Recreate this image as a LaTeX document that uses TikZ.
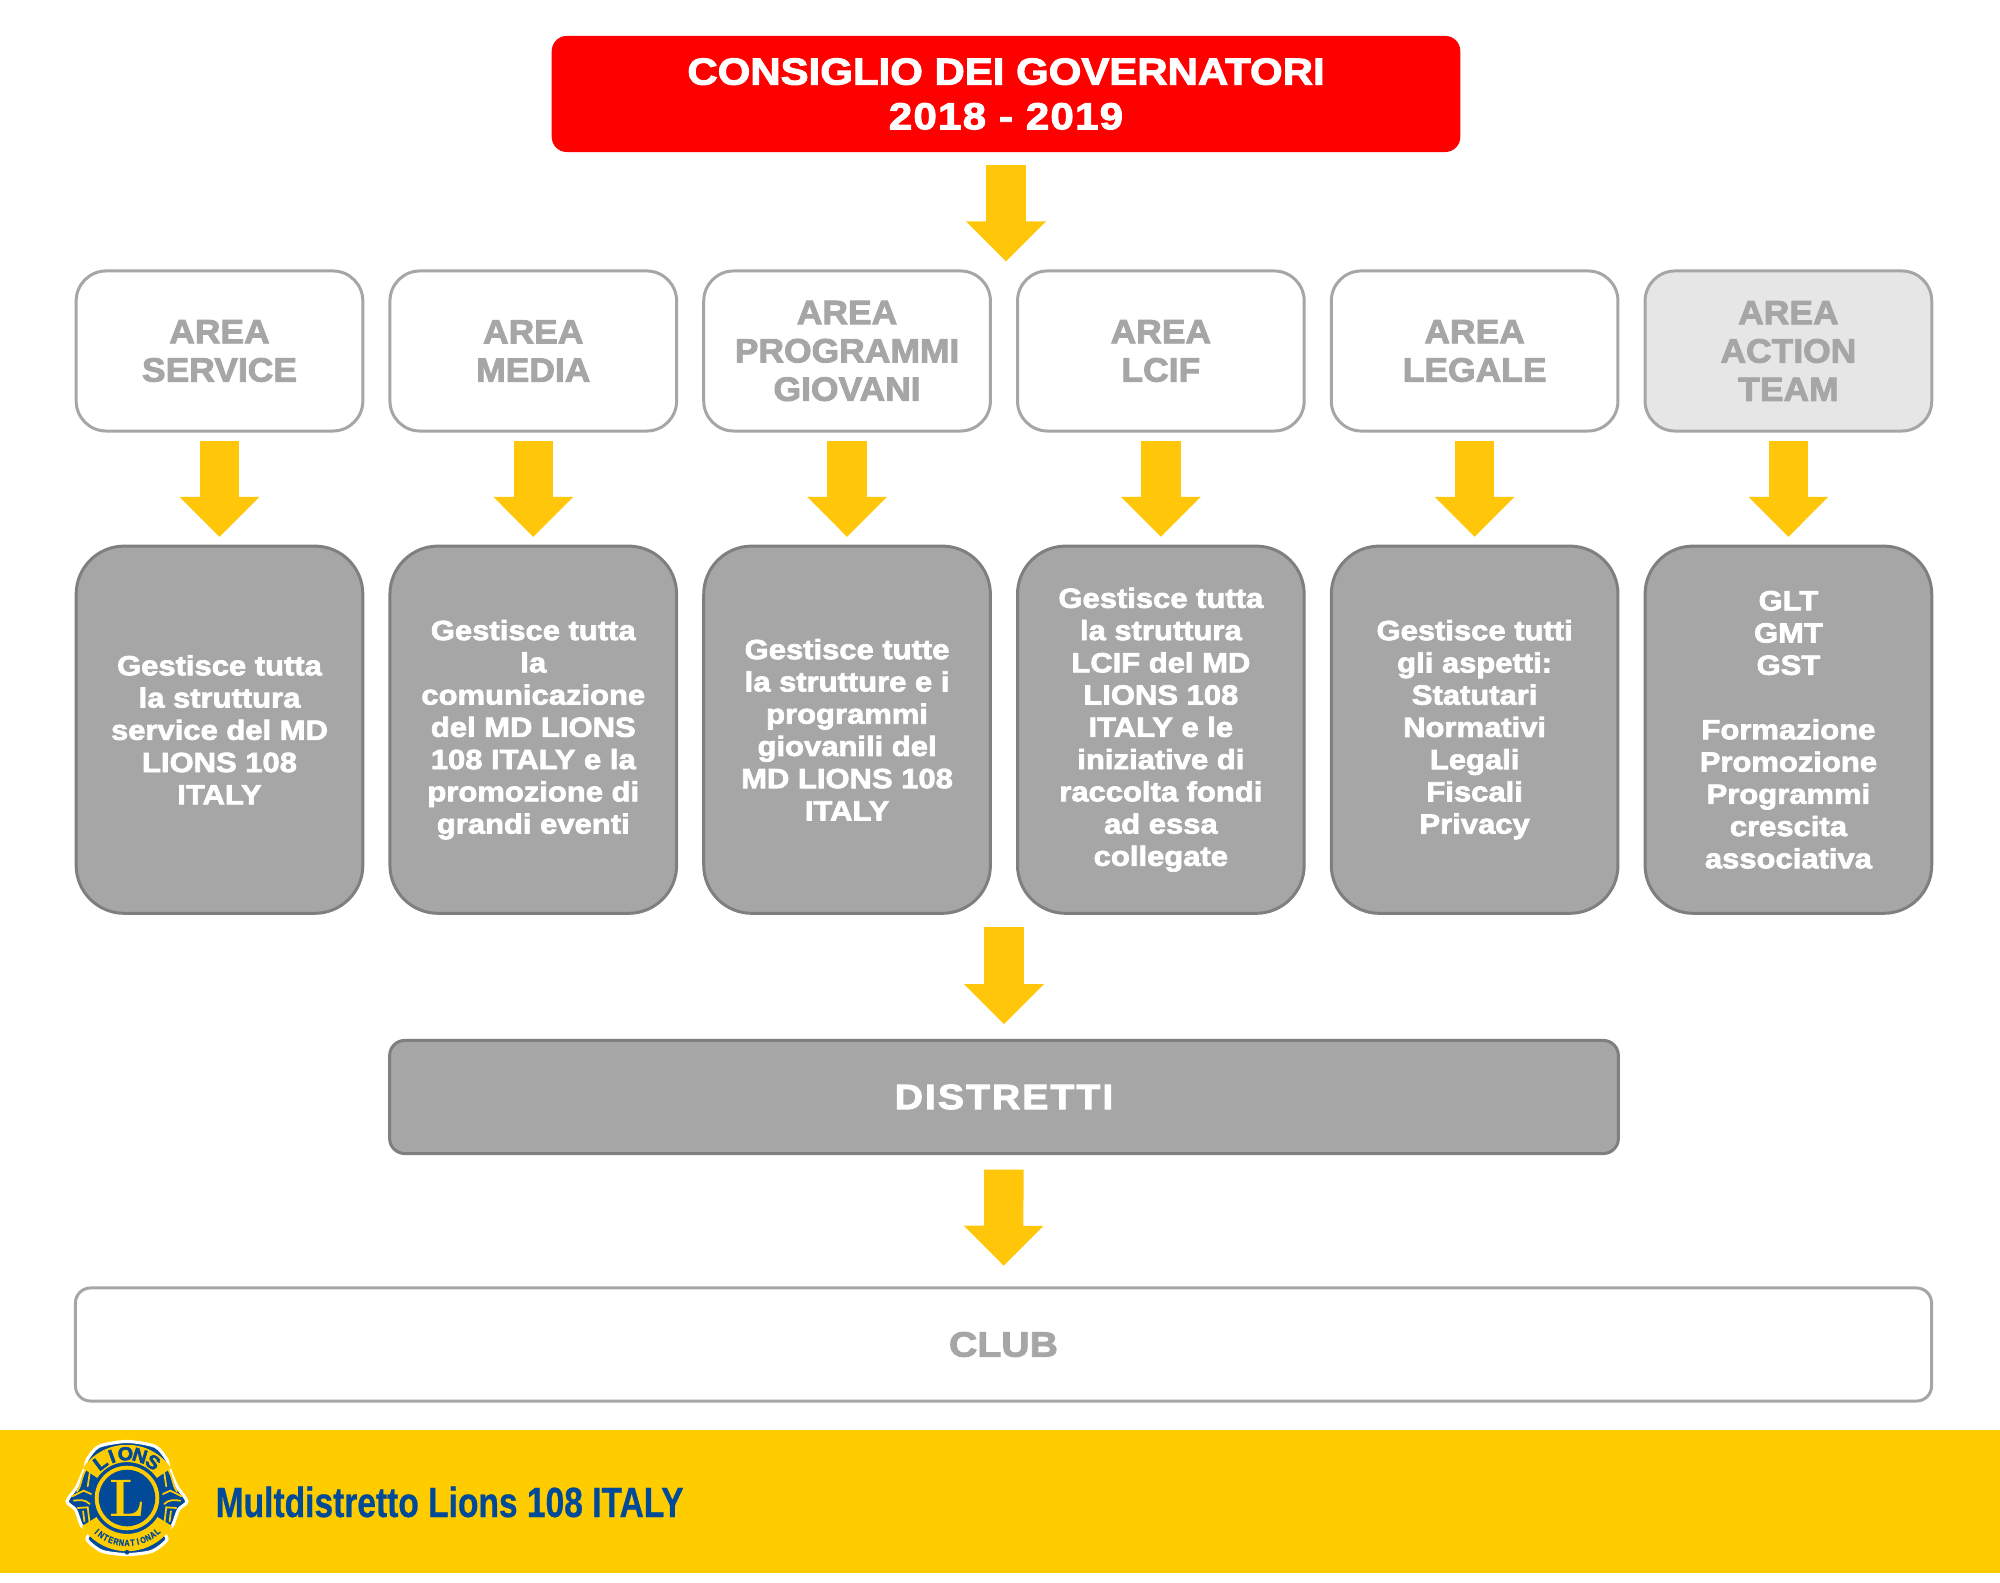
\documentclass[tikz,border=0pt]{standalone}
\usepackage{fontspec}
\usepackage{xcolor}
\usepackage{tikz}
\usetikzlibrary{positioning}
\usetikzlibrary{arrows.meta}
\newfontfamily\heavyfont[BoldFeatures={FakeBold=2.6,FakeStretch=1.115}]{Liberation Sans}
\newfontfamily\areafont[BoldFeatures={FakeBold=2.6,FakeStretch=1.05}]{Liberation Sans}
\newfontfamily\narrowfont[BoldFeatures={FakeBold=.6,FakeStretch=.795}]{Liberation Sans}
\definecolor{lionsgold}{HTML}{FFCC00}
\definecolor{arrowgold}{HTML}{FFC60A}
\definecolor{lionsblue}{HTML}{004A98}
\definecolor{softgrey}{HTML}{A6A6A6}
\definecolor{edgegrey}{HTML}{7F7F7F}
\definecolor{palegrey}{HTML}{E7E6E6}
\tikzset{
	title node/.style={rectangle,fill=red,rounded corners=1.5mm,outer sep=0pt,minimum width=90.8mm,minimum height=11.6mm,
		text=white,align=center,font=\heavyfont\bfseries\fontsize{10.7}{12.7}\selectfont},
	area node/.style={rectangle,draw=softgrey,line width=.3mm,fill=white,rounded corners=3mm,outer sep=0pt,
		minimum width=28.65mm,minimum height=16mm,text=softgrey,align=center,
		font=\areafont\bfseries\fontsize{9.6}{10.9}\selectfont},
	desc node/.style={rectangle,draw=edgegrey,line width=.3mm,fill=softgrey,rounded corners=4.8mm,outer sep=0pt,
		minimum width=28.65mm,minimum height=36.7mm,text=white,align=center,
		font=\heavyfont\bfseries\fontsize{7.9}{9.17}\selectfont},
	wide node/.style={rectangle,line width=.3mm,rounded corners=1.5mm,outer sep=0pt,minimum height=11.3mm,
		align=center,font=\heavyfont\bfseries\fontsize{10}{12}\selectfont},
	block arrow/.style={draw=arrowgold,line width=11.2pt,
		-{Triangle[width=22pt,length=11.4pt,sep=0pt]},shorten <=2.8pt,shorten >=2.6pt},
	lions letter/.style={inner sep=0pt,text=lionsblue,font=\areafont\bfseries\fontsize{5.4}{6}\selectfont},
	intl letter/.style={inner sep=0pt,text=lionsblue,font=\narrowfont\bfseries\fontsize{2.6}{3}\selectfont}
}
\newcommand{\lionface}{
	\draw[lionsgold,line width=.5pt,line cap=round] (-122,88) .. controls (-140,60) and (-135,40) .. (-150,20);
	\draw[lionsgold,line width=.5pt,line cap=round] (-165,5) -- (-130,22) -- (-108,12);
	\draw[lionsgold,line width=.5pt,line cap=round] (-160,-8) .. controls (-140,-5) and (-125,-5) .. (-112,-18);
	\draw[lionsgold,line width=.5pt,line cap=round] (-148,-30) -- (-118,-28) -- (-112,-78);
	\draw[lionsgold,line width=.5pt,line cap=round] (-132,-40) -- (-128,-70);
	\draw[lionsgold,line width=.5pt,line cap=round] (-112,75) -- (-118,35);
}
\begin{document}
\begin{tikzpicture}[x=.01cm,y=-.01cm,node distance=2.71mm]
	\useasboundingbox (0,0) rectangle (2000,1583);
	% top box
	\node [title node] (title) at (1006,94) {CONSIGLIO DEI GOVERNATORI\\{\addfontfeature{LetterSpace=3.4}2018 - 2019}};
	\coordinate (titletip) at (1006,261.5);
	% areas
	\node [area node] (service) at (219.5,351) {AREA\\SERVICE};
	\node [area node,right=of service] (media) {AREA\\MEDIA};
	\node [area node,right=of media] (giovani) {AREA\\PROGRAMMI\\GIOVANI};
	\node [area node,right=of giovani] (lcif) {AREA\\LCIF};
	\node [area node,right=of lcif] (legale) {AREA\\LEGALE};
	\node [area node,fill=palegrey,right=of legale] (action) {AREA\\ACTION\\TEAM};
	% descriptions
	\node [desc node,below=11.5mm of service] (dservice) {Gestisce tutta\\la struttura\\service del MD\\LIONS 108\\ITALY};
	\node [desc node,below=11.5mm of media] (dmedia) {Gestisce tutta\\la\\comunicazione\\del MD LIONS\\108 ITALY e la\\promozione di\\grandi eventi};
	\node [desc node,below=11.5mm of giovani] (dgiovani) {Gestisce tutte\\la strutture e i\\programmi\\giovanili del\\MD LIONS 108\\ITALY};
	\node [desc node,below=11.5mm of lcif] (dlcif) {Gestisce tutta\\la struttura\\LCIF del MD\\LIONS 108\\ITALY e le\\iniziative di\\raccolta fondi\\ad essa\\collegate};
	\node [desc node,below=11.5mm of legale] (dlegale) {Gestisce tutti\\gli aspetti:\\Statutari\\Normativi\\Legali\\Fiscali\\Privacy};
	\node [desc node,below=11.5mm of action] (daction) {GLT\\GMT\\GST\\[9.17pt]Formazione\\Promozione\\Programmi\\crescita\\associativa};
	% bottom boxes
	\node [wide node,draw=edgegrey,fill=softgrey,text=white,minimum width=122.8mm] (distretti) at (1004,1097) {\addfontfeature{LetterSpace=5.7}DISTRETTI};
	\node [wide node,draw=softgrey,fill=white,text=softgrey,minimum width=185.5mm] (club) at (1003.5,1344.5) {CLUB};
	\coordinate (midstart) at (1004,927);
	% arrows
	\draw [block arrow,shorten <=3.7pt,shorten >=0pt] (title.south) -- (titletip);
	\draw [block arrow] (service) -- (dservice);
	\draw [block arrow] (media) -- (dmedia);
	\draw [block arrow] (giovani) -- (dgiovani);
	\draw [block arrow] (lcif) -- (dlcif);
	\draw [block arrow] (legale) -- (dlegale);
	\draw [block arrow] (action) -- (daction);
	\draw [block arrow,shorten <=0pt,shorten >=4.6pt] (midstart) -- (distretti);
	\draw [block arrow,shorten <=4.6pt,shorten >=6.3pt] (distretti) -- (club);
	% footer band
	\fill [lionsgold] (0,1430) rectangle (2000,1573);
	\node [anchor=base west,inner sep=0pt,text=lionsblue,font=\narrowfont\bfseries\fontsize{12}{14}\selectfont] (footer) at (215,1517) {Multdistretto Lions 108 ITALY};
	% logo
	\begin{scope}[shift={(127,1498)},x=.00333cm,y=.00333cm]
		\draw [white,line width=.9pt,fill=lionsblue] plot [smooth cycle,tension=.45] coordinates {(0,170) (85,155) (120,115) (125,95) (150,35) (180,-10) (155,-35) (135,-85) (105,-95) (120,-125) (75,-160) (0,-170) (-75,-160) (-120,-125) (-105,-95) (-135,-85) (-155,-35) (-180,-10) (-150,35) (-125,95) (-120,115) (-85,155)};
		\fill [lionsgold] (146:108) arc (146:34:108) -- (34:160) arc (34:146:160) -- cycle;
		\fill [lionsgold] (212:108) arc (212:328:108) -- (328:160) arc (328:212:160) -- cycle;
		\fill [lionsgold] (0,0) circle (97);
		\fill [lionsblue] (0,0) circle (85);
		\foreach \ch/\ang [count=\i] in {L/127,I/110,O/92,N/73,S/54}
			\node [lions letter,rotate=\ang-90] (lions\i) at (\ang:133) {\ch};
		\foreach \ch/\ang [count=\i] in {I/228,N/235,T/242,E/249,R/256,N/263,A/270,T/277,I/284,O/291,N/298,A/305,L/312}
			\node [intl letter,rotate=\ang+90] (intl\i) at (\ang:135) {\ch};
		\fill [lionsblue] (0,-163) circle (7);
		\node [inner sep=0pt,text=lionsgold,font=\fontsize{15}{16}\selectfont\bfseries] (logoL) at (0,0) {L};
		\lionface
		\begin{scope}[xscale=-1]
			\lionface
		\end{scope}
	\end{scope}
\end{tikzpicture}
\end{document}
